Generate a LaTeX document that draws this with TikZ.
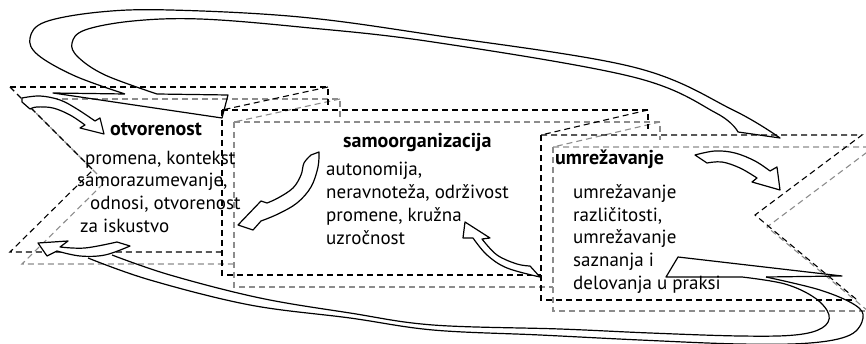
\documentclass[tikz,border=0pt]{standalone}
\usepackage{fontspec}
\setmainfont{PT Sans}
\begin{document}
\begin{tikzpicture}[x=1pt,y=-1pt,
  bk/.style={draw=black,line width=1.1pt,dash pattern=on 6pt off 4pt},
  gr/.style={draw=black!45,line width=1.1pt,dash pattern=on 6pt off 4pt},
  arr/.style={draw=black,line width=1.2pt,line join=round},
  sarr/.style={arr,fill=white},
  txt/.style={anchor=base west,inner sep=0pt,font=\fontsize{19}{22}\selectfont},
  ttl/.style={anchor=base west,inner sep=0pt,font=\fontsize{20}{22}\selectfont\bfseries}]
\useasboundingbox (0,0) rectangle (866,344);
\clip (0,0) rectangle (866,344);
% gray copies
\draw[gr] (22,99) -- (340,99) -- (340,119);
\draw[gr] (340,99) -- (234,122);
\draw[gr] (22,99) -- (105,182) -- (22,264) -- (234,264);
\draw[gr] (234,122) -- (660,122) -- (660,140);
\draw[gr] (660,122) -- (553,147);
\draw[gr] (234,122) -- (234,287) -- (553,287);
\draw[gr] (553,147) -- (874,147) -- (767,227) -- (868,311);
\draw[gr] (553,147) -- (553,311) -- (868,311);
% black boxes
\draw[bk] (10,87) -- (328,87) -- (328,107);
\draw[bk] (328,87) -- (222,110);
\draw[bk] (10,87) -- (93,170) -- (10,252) -- (222,252);
\draw[bk] (222,110) -- (648,110) -- (648,129);
\draw[bk] (648,110) -- (541,135);
\draw[bk] (222,110) -- (222,275) -- (541,275);
\draw[bk] (541,135) -- (862,135) -- (755,215) -- (856,299);
\draw[bk] (541,135) -- (541,300) -- (856,300);
% top arc
\draw[arr] (125,94) -- (53,93) -- (222,118) -- (228,95) -- (157,94)
  -- plot[smooth,tension=0.6] coordinates {(157,94) (105,75) (78,57) (72,43) (85,30) (133,21) (200,19) (300,27) (433,42) (633,77) (716,113) (738,132)}
  -- (780,138)
  -- plot[smooth,tension=0.6] coordinates {(780,138) (733,110) (633,67) (433,35) (300,17) (170,10) (100,12) (45,22) (30,38) (38,55) (75,76) (125,94)};
% bottom arc
\draw[arr] (766,277) -- (842,276) -- (678,257) -- (666,277) -- (742,277)
  -- plot[smooth,tension=0.6] coordinates {(742,277) (785,284) (815,298) (829,315) (822,328) (795,335) (740,336) (650,333) (560,329) (433,325) (350,313) (260,298) (170,275) (112,255)};
\draw[arr] plot[smooth,tension=0.6] coordinates {(766,277) (820,290) (855,305) (863,318) (850,335) (810,343) (740,344) (640,340) (540,335) (433,330) (350,318) (250,305) (150,280) (88,258)};
% small arrows
\draw[sarr] (22,102) -- plot[smooth,tension=0.6] coordinates {(22,98) (40,96) (60,100) (77,109) (95,121)} -- (100,118) -- (104,134) -- (80,128) -- plot[smooth,tension=0.6] coordinates {(85,125) (70,115) (53,108) (37,107) (30,109)} -- cycle;
\draw[sarr] (38,243) -- (68,241) -- (60,247) -- plot[smooth,tension=0.6] coordinates {(60,247) (85,248) (117,242)} -- (130,246) -- plot[smooth,tension=0.6] coordinates {(130,246) (105,255) (80,256) (57,251)} -- (47,256) -- cycle;
\draw[sarr] (311,155) -- plot[smooth,tension=0.6] coordinates {(311,155) (304,163) (301,175) (293,188) (278,198) (267,203)} -- (261,201) -- (238,225) -- (253,230) -- plot[smooth,tension=0.6] coordinates {(261,221) (278,214) (297,203) (311,187) (318,167) (319,152)} -- cycle;
\draw[sarr] (465,222) -- (490,238) -- (482,239) -- plot[smooth,tension=0.6] coordinates {(482,239) (497,255) (517,264) (530,266)} -- (540,277) -- plot[smooth,tension=0.6] coordinates {(540,277) (507,268) (487,255) (473,238)} -- (463,238) -- cycle;
\draw[sarr] (695,155) -- plot[smooth,tension=0.6] coordinates {(695,155) (715,151) (735,153) (755,161) (770,171)} -- (777,167) -- (780,190) -- (752,182) -- (757,178) -- plot[smooth,tension=0.6] coordinates {(757,178) (740,168) (722,162) (707,163)} -- cycle;
% texts
\node[ttl] (t1) at (110,136) {otvorenost};
\node[txt] (l11) at (85,165) {promena, kontekst};
\node[txt] (l12) at (77,187) {samorazumevanje,};
\node[txt] (l13) at (90,210) {odnosi, otvorenost};
\node[txt] (l14) at (80,233) {za iskustvo};
\node[ttl] (t2) at (343,148) {samoorganizacija};
\node[txt] (l21) at (326,176) {autonomija,};
\node[txt] (l22) at (326,199) {neravnoteža, održivost};
\node[txt] (l23) at (326,222) {promene, kružna};
\node[txt] (l24) at (326,245) {uzročnost};
\node[ttl] (t3) at (555,165) {umrežavanje};
\node[txt] (l31) at (573,199) {umrežavanje};
\node[txt] (l32) at (573,222) {različitosti,};
\node[txt] (l33) at (573,244) {umrežavanje};
\node[txt] (l34) at (573,267) {saznanja i};
\node[txt] (l35) at (573,289) {delovanja u praksi};
\end{tikzpicture}
\end{document}
